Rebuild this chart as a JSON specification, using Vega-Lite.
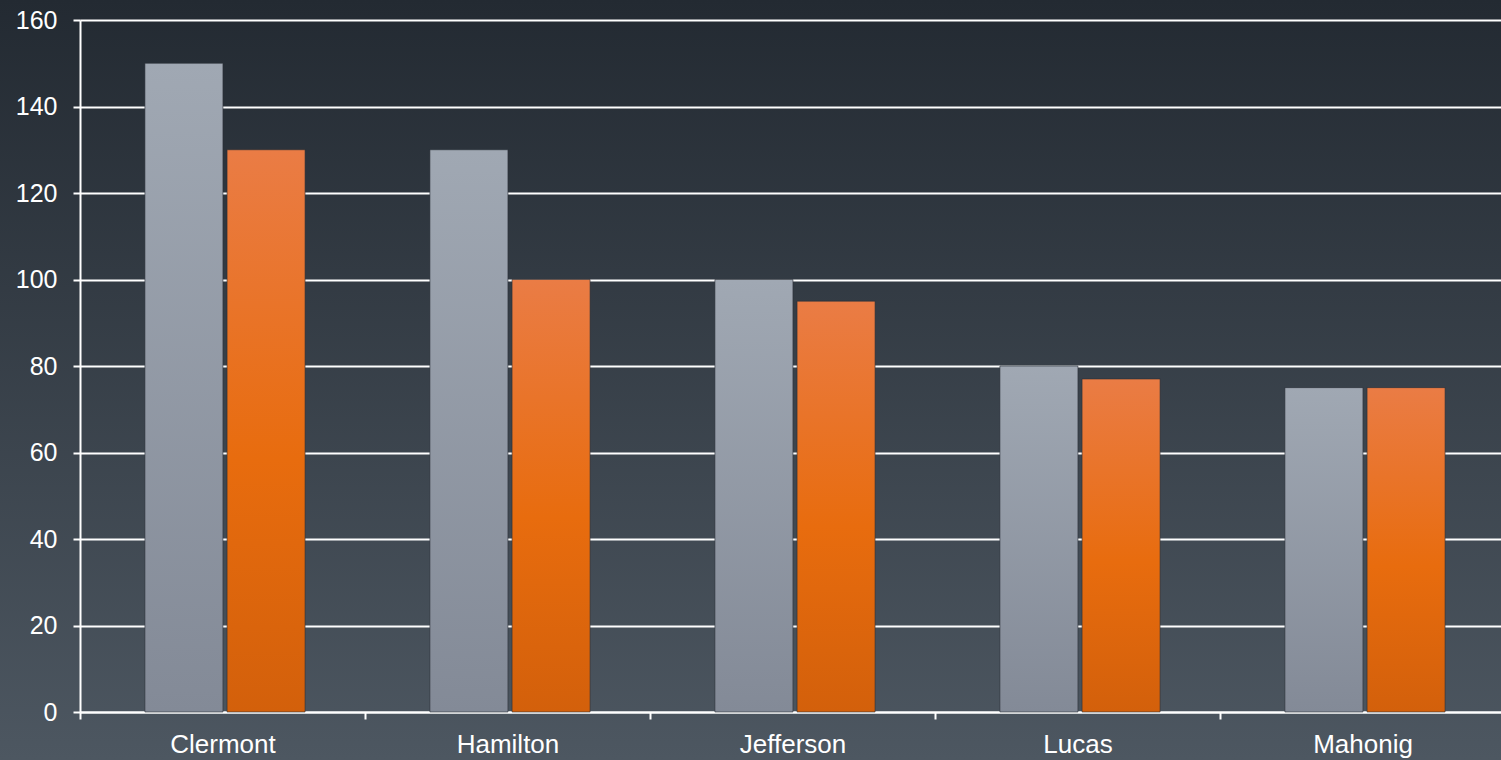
{
  "$schema": "https://vega.github.io/schema/vega-lite/v6.json",
  "width": 1501,
  "height": 760,
  "autosize": "none",
  "padding": 0,
  "background": "#353c45",
  "config": {
    "view": {
      "stroke": null,
      "fill": {
        "gradient": "linear",
        "x1": 0, "y1": 0, "x2": 0, "y2": 1,
        "stops": [
          {"offset": 0, "color": "#232a32"},
          {"offset": 1, "color": "#4d5761"}
        ]
      }
    },
    "font": "Liberation Sans"
  },
  "data": {
    "values": [
      {"county": "Clermont", "series": "A", "value": 150},
      {"county": "Clermont", "series": "B", "value": 130},
      {"county": "Hamilton", "series": "A", "value": 130},
      {"county": "Hamilton", "series": "B", "value": 100},
      {"county": "Jefferson", "series": "A", "value": 100},
      {"county": "Jefferson", "series": "B", "value": 95},
      {"county": "Lucas", "series": "A", "value": 80},
      {"county": "Lucas", "series": "B", "value": 77},
      {"county": "Mahonig", "series": "A", "value": 75},
      {"county": "Mahonig", "series": "B", "value": 75}
    ]
  },
  "mark": {"type": "bar", "stroke": "#2a2f36", "strokeOpacity": 0.6, "strokeWidth": 1},
  "encoding": {
    "x": {
      "field": "county",
      "type": "nominal",
      "sort": null,
      "scale": {"range": [80, 1505], "paddingInner": 0, "paddingOuter": 0},
      "axis": {
        "title": null,
        "orient": "bottom",
        "offset": -48,
        "labelAngle": 0,
        "labelColor": "#ffffff",
        "labelFontSize": 26,
        "labelPadding": 12,
        "tickBand": "extent",
        "tickColor": "#ffffff",
        "tickSize": 7,
        "tickWidth": 2,
        "domainColor": "#ffffff",
        "domainWidth": 2,
        "grid": false
      }
    },
    "xOffset": {
      "field": "series",
      "type": "nominal",
      "scale": {"paddingInner": 0.05, "paddingOuter": 0.76, "align": 0.52}
    },
    "y": {
      "field": "value",
      "type": "quantitative",
      "scale": {"domain": [0, 160], "range": [712, 20], "nice": false},
      "axis": {
        "title": null,
        "orient": "left",
        "offset": -80,
        "values": [0, 20, 40, 60, 80, 100, 120, 140, 160],
        "labelColor": "#ffffff",
        "labelFontSize": 25,
        "labelPadding": 16,
        "tickColor": "#ffffff",
        "tickSize": 7,
        "tickWidth": 2,
        "domainColor": "#ffffff",
        "domainWidth": 2,
        "grid": true,
        "gridColor": "#ffffff",
        "gridWidth": 2,
        "gridOpacity": 1
      }
    },
    "fill": {
      "condition": {
        "test": "datum.series === 'A'",
        "value": {
          "gradient": "linear",
          "x1": 0, "y1": 0, "x2": 0, "y2": 1,
          "stops": [
            {"offset": 0, "color": "#a0a8b3"},
            {"offset": 1, "color": "#838a97"}
          ]
        }
      },
      "value": {
        "gradient": "linear",
        "x1": 0, "y1": 0, "x2": 0, "y2": 1,
        "stops": [
          {"offset": 0, "color": "#ea7c45"},
          {"offset": 0.55, "color": "#e86c0e"},
          {"offset": 1, "color": "#d3600b"}
        ]
      }
    }
  }
}
